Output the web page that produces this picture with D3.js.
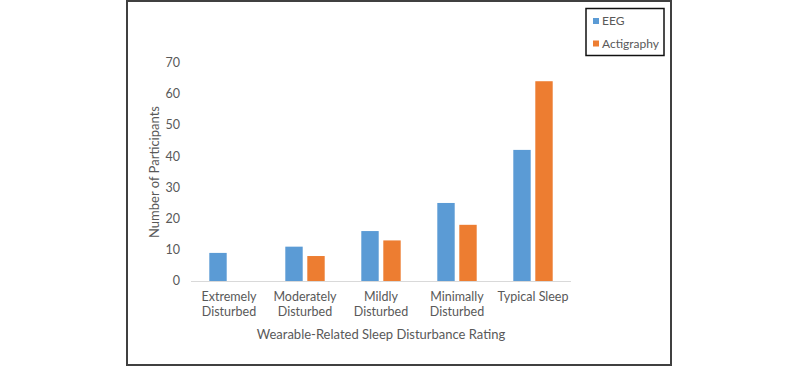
<!DOCTYPE html>
<html>
<head>
<meta charset="utf-8">
<script src="https://cdn.jsdelivr.net/npm/d3@7"></script>
<style>
  body { margin: 0; background: #fff; }
  text { font-family: Lato, "Open Sans", sans-serif; fill: #595959; }
</style>
</head>
<body>
<div id="chart"></div>
<script>
var categories = [
  ["Extremely", "Disturbed"],
  ["Moderately", "Disturbed"],
  ["Mildly", "Disturbed"],
  ["Minimally", "Disturbed"],
  ["Typical Sleep"]
];
var series = ["EEG", "Actigraphy"];
var eegValues = [9, 11, 16, 25, 42];
var actigraphyValues = [0, 8, 13, 18, 64];
var yTicks = [0, 10, 20, 30, 40, 50, 60, 70];

var colors = d3.scaleOrdinal().domain(series).range(["#5B9BD5", "#ED7D31"]);

var width = 800, height = 367;
var plot = { left: 191, right: 571, top: 62.5, bottom: 281 };

var svg = d3.select("#chart").append("svg")
  .attr("width", width)
  .attr("height", height);

// outer frame
svg.append("rect")
  .attr("x", 127).attr("y", 1)
  .attr("width", 544).attr("height", 364)
  .attr("fill", "none")
  .attr("stroke", "#404040")
  .attr("stroke-width", 2);

var x = d3.scaleBand()
  .domain(d3.range(categories.length))
  .range([plot.left, plot.right]);

var y = d3.scaleLinear()
  .domain([0, 70])
  .range([plot.bottom, plot.top]);

var barW = 17.4, gap = 4.6;
var xs = d3.scaleOrdinal().domain(series)
  .range([-gap / 2 - barW, gap / 2]);

var rows = categories.map(function (c, i) {
  return { i: i, values: [
    { key: "EEG", value: eegValues[i] },
    { key: "Actigraphy", value: actigraphyValues[i] }
  ] };
});

// y tick labels
svg.append("g").selectAll("text")
  .data(yTicks)
  .enter().append("text")
  .attr("x", 180)
  .attr("y", function (d) { return y(d); })
  .attr("dy", "0.35em")
  .attr("text-anchor", "end")
  .style("font-size", "12.5px")
  .text(function (d) { return d; });

// bars
svg.append("g").selectAll("g")
  .data(rows)
  .enter().append("g")
  .attr("transform", function (d) { return "translate(" + (x(d.i) + x.bandwidth() / 2) + ",0)"; })
  .selectAll("rect")
  .data(function (d) { return d.values.filter(function (v) { return v.value > 0; }); })
  .enter().append("rect")
  .attr("x", function (d) { return xs(d.key); })
  .attr("width", barW)
  .attr("y", function (d) { return y(d.value); })
  .attr("height", function (d) { return y(0) - y(d.value); })
  .attr("fill", function (d) { return colors(d.key); });

// baseline
svg.append("line")
  .attr("x1", plot.left).attr("x2", plot.right)
  .attr("y1", y(0) + 0.5).attr("y2", y(0) + 0.5)
  .attr("stroke", "#D9D9D9")
  .attr("stroke-width", 1);

// category labels
var catLabels = svg.append("g").selectAll("text")
  .data(categories)
  .enter().append("text")
  .attr("text-anchor", "middle")
  .style("font-size", "12.5px")
  .attr("transform", function (d, i) { return "translate(" + (x(i) + x.bandwidth() / 2) + ",301)"; });
catLabels.selectAll("tspan")
  .data(function (d) { return d; })
  .enter().append("tspan")
  .attr("x", 0)
  .attr("y", function (d, i) { return i * 15; })
  .text(function (d) { return d; });

// axis titles
svg.append("text")
  .attr("x", (plot.left + plot.right) / 2)
  .attr("y", 339)
  .attr("text-anchor", "middle")
  .style("font-size", "13px")
  .text("Wearable-Related Sleep Disturbance Rating");

svg.append("text")
  .attr("transform", "translate(159,172) rotate(-90)")
  .attr("text-anchor", "middle")
  .style("font-size", "13px")
  .text("Number of Participants");

// legend
var legend = svg.append("g");
legend.append("rect")
  .attr("x", 586).attr("y", 8.5)
  .attr("width", 78).attr("height", 47)
  .attr("fill", "#fff")
  .attr("stroke", "#111")
  .attr("stroke-width", 1.5);
var items = legend.selectAll("g.item")
  .data(series)
  .enter().append("g")
  .attr("class", "item")
  .attr("transform", function (d, i) { return "translate(593," + (21 + i * 22.5) + ")"; });
items.append("rect")
  .attr("x", 0).attr("y", -3)
  .attr("width", 6).attr("height", 6)
  .attr("fill", function (d) { return colors(d); });
items.append("text")
  .attr("x", 9)
  .attr("dy", "0.35em")
  .style("font-size", "12px")
  .text(function (d) { return d; });
</script>
</body>
</html>
